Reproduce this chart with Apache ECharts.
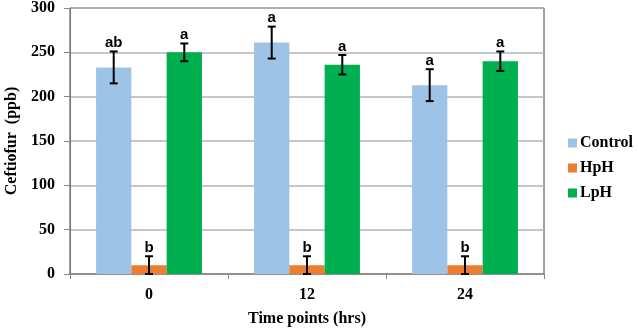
<!DOCTYPE html>
<html>
<head>
<meta charset="utf-8">
<script src="https://cdn.jsdelivr.net/npm/echarts@6/dist/echarts.min.js"></script>
<style>
  html, body { margin: 0; padding: 0; background: #fff; }
  #chart { width: 638px; height: 329px; }
</style>
</head>
<body>
<div id="chart"></div>
<script>
const timePoints = ['0', '12', '24'];
const seriesNames = ['Control', 'HpH', 'LpH'];
const controlVals = [233, 261, 213];
const hphVals = [10, 10, 10];
const lphVals = [250, 236, 240];
const controlErr = [18, 18, 18];
const hphErr = [10, 10, 10];
const lphErr = [10, 11, 11];
const controlLetters = ['ab', 'a', 'a'];
const hphLetters = ['b', 'b', 'b'];
const lphLetters = ['a', 'a', 'a'];

const colors = ['#9DC3E6', '#ED7D31', '#00B050'];
const serif = '"Liberation Serif", "Times New Roman", serif';

const values = [controlVals, hphVals, lphVals];
const errs = [controlErr, hphErr, lphErr];
const letters = [controlLetters, hphLetters, lphLetters];

const myChart = echarts.init(document.getElementById('chart'));

// error bars + significance letters, one custom series per group
const errorSeries = values.map((vals, s) => ({
  type: 'custom',
  name: seriesNames[s] + ' err',
  z: 10,
  silent: true,
  data: vals.map((v, i) => [i, v, errs[s][i]]),
  renderItem: (params, api) => {
    const idx = api.value(0);
    const val = api.value(1);
    const err = api.value(2);
    const band = api.size([1, 0])[0];
    const barW = band * 0.67 / 3;
    const off = (s - 1) * barW;
    const top = api.coord([idx, val + err]);
    const bot = api.coord([idx, Math.max(val - err, 0)]);
    const x = top[0] + off;
    const cap = 4;
    const st = { stroke: '#000', lineWidth: 2 };
    return {
      type: 'group',
      children: [
        { type: 'line', shape: { x1: x, y1: top[1], x2: x, y2: bot[1] }, style: st },
        { type: 'line', shape: { x1: x - cap, y1: top[1], x2: x + cap, y2: top[1] }, style: st },
        { type: 'line', shape: { x1: x - cap, y1: bot[1], x2: x + cap, y2: bot[1] }, style: st },
        {
          type: 'text',
          style: {
            x: x, y: top[1] - 1,
            text: letters[s][idx],
            textAlign: 'center', textVerticalAlign: 'bottom',
            fontFamily: 'Arial, "Liberation Sans", sans-serif',
            fontWeight: 'bold', fontSize: 15, fill: '#000'
          }
        }
      ]
    };
  }
}));

const option = {
  animation: false,
  grid: {
    left: 70, right: 94, top: 8, bottom: 55,
    outerBoundsMode: 'none',
    containLabel: false,
    show: true, borderColor: '#444', borderWidth: 1
  },
  legend: {
    orient: 'vertical',
    left: 563,
    top: 130,
    itemWidth: 9,
    itemHeight: 9,
    itemGap: 9,
    icon: 'rect',
    data: seriesNames,
    textStyle: { fontFamily: serif, fontWeight: 'bold', fontSize: 16, color: '#000', padding: [0, 0, 0, -2] }
  },
  xAxis: {
    type: 'category',
    data: timePoints,
    name: 'Time points (hrs)',
    nameLocation: 'middle',
    nameGap: 37,
    nameTextStyle: { fontFamily: serif, fontWeight: 'bold', fontSize: 16, color: '#000' },
    axisLine: { lineStyle: { color: '#888', width: 1.5 } },
    axisTick: { show: true, alignWithLabel: false, length: 5, lineStyle: { color: '#888' } },
    axisLabel: { fontFamily: serif, fontWeight: 'bold', fontSize: 16, color: '#000', margin: 13 }
  },
  yAxis: {
    type: 'value',
    min: 0, max: 300, interval: 50,
    name: 'Ceftiofur  (ppb)',
    nameLocation: 'middle',
    nameGap: 50,
    nameTextStyle: { fontFamily: serif, fontWeight: 'bold', fontSize: 16, color: '#000' },
    axisLine: { show: true, lineStyle: { color: '#777' } },
    axisTick: { show: true, length: 6, lineStyle: { color: '#888' } },
    axisLabel: { fontFamily: serif, fontWeight: 'bold', fontSize: 16, color: '#000', margin: 15 },
    splitLine: { lineStyle: { color: '#b4b4b4', width: 1.5 } }
  },
  series: [
    ...values.map((vals, s) => ({
      type: 'bar',
      name: seriesNames[s],
      data: vals,
      barGap: '0%',
      barCategoryGap: '33%',
      itemStyle: { color: colors[s] }
    })),
    ...errorSeries
  ]
};

myChart.setOption(option);
</script>
</body>
</html>
